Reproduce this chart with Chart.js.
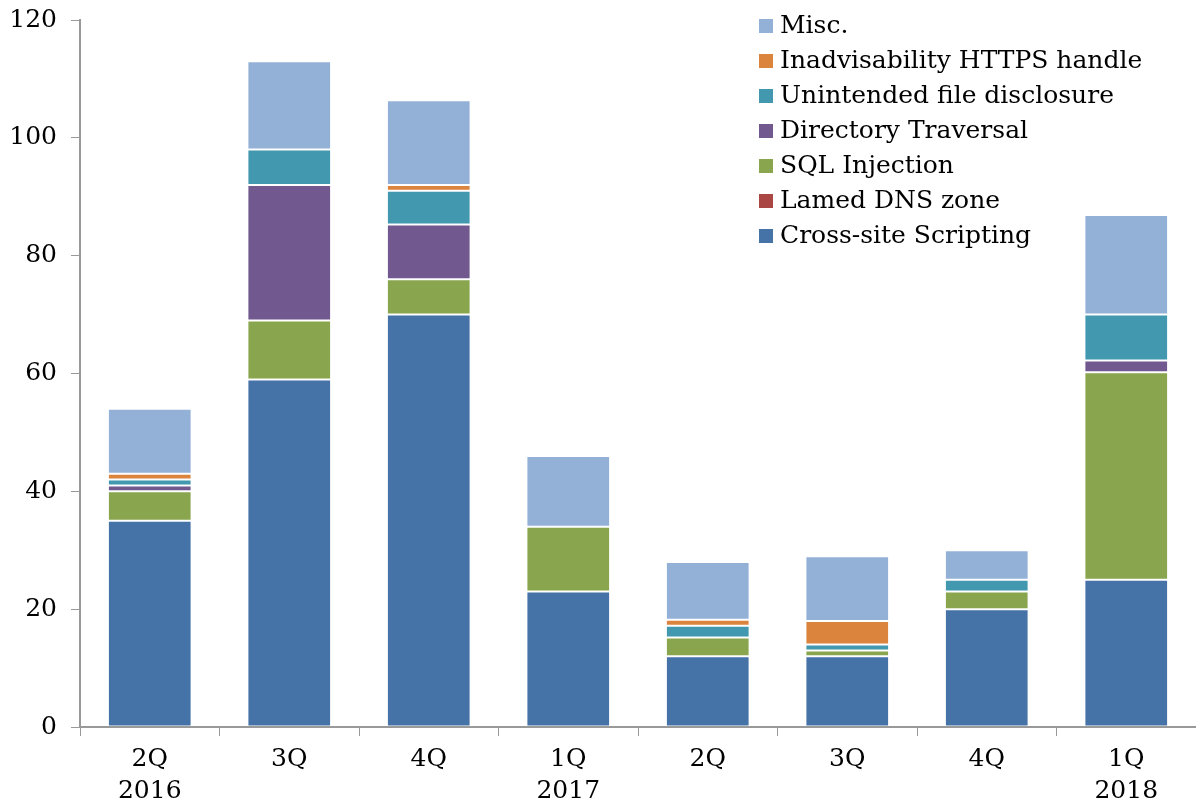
<!DOCTYPE html>
<html>
<head>
<meta charset="utf-8">
<script src="https://cdn.jsdelivr.net/npm/chart.js@4/dist/chart.umd.min.js"></script>
<style>
  html, body { margin: 0; padding: 0; background: #fff; }
  #wrap { width: 1196px; height: 802px; }
</style>
</head>
<body>
<div id="wrap"><canvas id="myBarChart"></canvas></div>
<script>
// 분기 라벨 (두 줄)
const quarters = [['2Q', '2016'], ['3Q', ''], ['4Q', ''], ['1Q', '2017'], ['2Q', ''], ['3Q', ''], ['4Q', ''], ['1Q', '2018']];

// 시리즈 값
const crossSite  = [35, 59, 70, 23, 12, 12, 20, 25];
const lamedDns   = [0, 0, 0, 0, 0, 0, 0, 0];
const sqlInject  = [5, 10, 6, 11, 3.2, 1, 3, 35.2];
const dirTrav    = [1, 23, 9.3, 0, 0, 0, 0, 2];
const fileDisc   = [1, 6, 5.7, 0, 2, 1, 2, 7.8];
const httpsHndl  = [1, 0, 1, 0, 1, 4, 0, 0];
const misc       = [11, 15, 14.4, 12, 9.8, 11, 5, 16.9];

const yTicks = [0, 20, 40, 60, 80, 100, 120];

const FONT = "'DejaVu Serif', 'Liberation Serif', serif";
const FSIZE = 25;

function makeSet(label, data, color) {
  return {
    label: label,
    data: data,
    backgroundColor: color,
    borderColor: 'rgba(255,255,255,0.15)',
    borderWidth: 1,
    borderSkipped: false,
    categoryPercentage: 1,
    barPercentage: 0.6
  };
}

const barData = {
  labels: quarters,
  datasets: [
    makeSet('Cross-site Scripting', crossSite, '#4572A7'),
    makeSet('Lamed DNS zone', lamedDns, '#AA4643'),
    makeSet('SQL Injection', sqlInject, '#89A54E'),
    makeSet('Directory Traversal', dirTrav, '#71588F'),
    makeSet('Unintended file disclosure', fileDisc, '#4198AF'),
    makeSet('Inadvisability HTTPS handle', httpsHndl, '#DB843D'),
    makeSet('Misc.', misc, '#93B1D7')
  ]
};

// 차트 영역 안쪽 범례 (위에서부터 역순)
const innerLegend = {
  id: 'innerLegend',
  afterDraw(chart) {
    const ctx = chart.ctx;
    const sets = chart.data.datasets.slice().reverse();
    ctx.save();
    ctx.font = FSIZE + 'px ' + FONT;
    ctx.textBaseline = 'middle';
    sets.forEach((ds, i) => {
      const y = 26 + i * 35;
      ctx.fillStyle = ds.backgroundColor;
      ctx.fillRect(759, y - 7, 14, 14);
      ctx.fillStyle = '#000';
      ctx.fillText(ds.label, 780, y);
    });
    ctx.restore();
  }
};

const ctx = document.getElementById('myBarChart').getContext('2d');
const myBarChart = new Chart(ctx, {
  type: 'bar',
  data: barData,
  plugins: [innerLegend],
  options: {
    responsive: true,
    maintainAspectRatio: false,
    animation: false,
    layout: { padding: { top: 20, right: 0, left: 0, bottom: 0 } },
    plugins: {
      legend: { display: false },
      tooltip: { enabled: false }
    },
    scales: {
      x: {
        stacked: true,
        offset: true,
        grid: {
          offset: true,
          drawOnChartArea: false,
          drawTicks: true,
          tickLength: 9,
          color: '#999'
        },
        border: { display: true, color: '#999', width: 2 },
        ticks: {
          color: '#000',
          font: { family: FONT, size: FSIZE, lineHeight: 1.3 },
          padding: 7,
          maxRotation: 0
        },
        afterFit(scale) { scale.height = 75; }
      },
      y: {
        stacked: true,
        min: 0,
        max: 120,
        afterBuildTicks(scale) { scale.ticks = yTicks.map(v => ({ value: v })); },
        grid: {
          drawOnChartArea: false,
          drawTicks: true,
          tickLength: 9,
          color: '#999'
        },
        border: { display: true, color: '#999', width: 2 },
        ticks: {
          color: '#000',
          font: { family: FONT, size: FSIZE },
          padding: 14
        },
        afterFit(scale) {
          scale.width = 80;
          scale.paddingTop = 0;
          scale.paddingBottom = 0;
        }
      }
    }
  }
});
</script>
</body>
</html>
